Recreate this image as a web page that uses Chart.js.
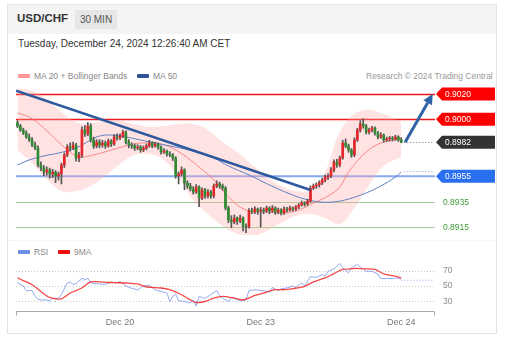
<!DOCTYPE html>
<html>
<head>
<meta charset="utf-8">
<script src="https://cdn.jsdelivr.net/npm/chart.js@4.4.1/dist/chart.umd.min.js"></script>
<style>
  body { margin: 0; background: #fff; font-family: "Liberation Sans", Arial, sans-serif; }
  #wrap { position: relative; width: 505px; height: 347px; overflow: hidden; }
  .card { position: absolute; left: 7px; top: 4px; width: 490px; height: 330px; border: 1px solid #e4e4e4; box-sizing: border-box; }
  .head { position: absolute; left: 8px; top: 5px; width: 488px; height: 29px; background: #f4f4f4; }
  .sym { position: absolute; left: 17px; top: 12px; font-size: 11.5px; font-weight: bold; color: #333; }
  .tf { position: absolute; left: 75px; top: 10px; width: 42px; height: 19px; background: #e6e6e6; color: #555; font-size: 10px; line-height: 19px; text-align: center; }
  .date { position: absolute; left: 18px; top: 38px; font-size: 10px; color: #333; }
  .leg { position: absolute; font-size: 8.5px; color: #888; line-height: 10px; }
  .sw { position: absolute; width: 12px; height: 4px; border-radius: 1px; }
  .sep { position: absolute; left: 8px; top: 240px; width: 488px; border-top: 1px dotted #eee; }
  canvas { position: absolute; left: 0; }
</style>
</head>
<body>
<div id="wrap">
  <div class="card"></div>
  <div class="head"></div>
  <div class="sym">USD/CHF</div>
  <div class="tf">30 MIN</div>
  <div class="date">Tuesday, December 24, 2024 12:26:40 AM CET</div>

  <div class="sw" style="left:18px;top:74px;background:#ff9a9a"></div>
  <div class="leg" style="left:34px;top:71px">MA 20 + Bollinger Bands</div>
  <div class="sw" style="left:137px;top:74px;background:#2f5597"></div>
  <div class="leg" style="left:153px;top:71px">MA 50</div>
  <div class="leg" style="left:366px;top:71px;color:#999">Research © 2024 Trading Central</div>

  <div class="sep"></div>
  <div class="sw" style="left:18px;top:250px;background:#6d8fe6"></div>
  <div class="leg" style="left:34px;top:247px">RSI</div>
  <div class="sw" style="left:58px;top:250px;background:#f01010"></div>
  <div class="leg" style="left:74px;top:247px">9MA</div>

  <canvas id="price" width="505" height="165" style="top:80px"></canvas>
  <canvas id="rsi" width="505" height="102" style="top:245px"></canvas>
</div>

<script>
// -------------------------------------------------------------------
// Data (30 min candles, Dec 19 - Dec 24)
// -------------------------------------------------------------------
const SLOTS      = 143;          // candle slots incl. projection room on the right
const dayTicks   = [35, 83, 131];
const dayLabels  = ["Dec 20", "Dec 23", "Dec 24"];

const opens = [
  0.89975,0.89947,0.89916,0.89892,0.89861,0.89837,0.89797,0.89774,0.89640,0.89616,
  0.89584,0.89600,0.89569,0.89584,0.89553,0.89569,0.89640,0.89719,0.89782,0.89774,
  0.89797,0.89695,0.89719,0.89916,0.89884,0.89947,0.89837,0.89790,0.89821,0.89797,
  0.89813,0.89790,0.89829,0.89805,0.89861,0.89853,0.89868,0.89900,0.89821,0.89797,
  0.89790,0.89774,0.89782,0.89758,0.89774,0.89790,0.89813,0.89790,0.89805,0.89782,
  0.89742,0.89750,0.89726,0.89719,0.89695,0.89553,0.89569,0.89600,0.89498,0.89474,
  0.89450,0.89426,0.89466,0.89379,0.89442,0.89395,0.89426,0.89395,0.89474,0.89490,
  0.89474,0.89458,0.89300,0.89205,0.89190,0.89221,0.89198,0.89221,0.89158,0.89150,
  0.89277,0.89269,0.89292,0.89277,0.89284,0.89277,0.89300,0.89277,0.89300,0.89269,
  0.89284,0.89261,0.89292,0.89284,0.89300,0.89292,0.89308,0.89324,0.89340,0.89332,
  0.89355,0.89458,0.89474,0.89482,0.89498,0.89521,0.89545,0.89553,0.89600,0.89663,
  0.89640,0.89695,0.89813,0.89790,0.89758,0.89719,0.89837,0.89916,0.89963,0.89947,
  0.89900,0.89916,0.89932,0.89892,0.89861,0.89876,0.89837,0.89845,0.89853,0.89845,
  0.89861,0.89837
];
const highs = [
  0.89990,0.89960,0.89930,0.89910,0.89885,0.89855,0.89820,0.89790,0.89665,0.89635,
  0.89625,0.89615,0.89605,0.89595,0.89585,0.89655,0.89735,0.89800,0.89815,0.89820,
  0.89810,0.89740,0.89940,0.89950,0.89975,0.89965,0.89860,0.89840,0.89840,0.89835,
  0.89830,0.89845,0.89840,0.89880,0.89885,0.89885,0.89915,0.89910,0.89840,0.89815,
  0.89805,0.89800,0.89795,0.89790,0.89805,0.89835,0.89825,0.89820,0.89815,0.89790,
  0.89770,0.89760,0.89745,0.89730,0.89705,0.89585,0.89625,0.89610,0.89515,0.89495,
  0.89470,0.89485,0.89475,0.89460,0.89455,0.89445,0.89440,0.89490,0.89515,0.89505,
  0.89490,0.89470,0.89315,0.89240,0.89245,0.89230,0.89245,0.89230,0.89175,0.89295,
  0.89300,0.89310,0.89300,0.89305,0.89300,0.89315,0.89310,0.89320,0.89310,0.89300,
  0.89295,0.89310,0.89305,0.89315,0.89310,0.89320,0.89335,0.89355,0.89350,0.89370,
  0.89475,0.89490,0.89500,0.89515,0.89535,0.89560,0.89570,0.89620,0.89680,0.89685,
  0.89710,0.89835,0.89845,0.89805,0.89770,0.89855,0.89930,0.89990,0.90005,0.89960,
  0.89930,0.89945,0.89940,0.89905,0.89895,0.89885,0.89860,0.89865,0.89865,0.89875,
  0.89870,0.89855
];
const lows = [
  0.89935,0.89905,0.89880,0.89850,0.89825,0.89785,0.89760,0.89625,0.89595,0.89555,
  0.89560,0.89535,0.89540,0.89500,0.89520,0.89490,0.89620,0.89705,0.89750,0.89760,
  0.89670,0.89665,0.89700,0.89865,0.89870,0.89820,0.89770,0.89775,0.89775,0.89780,
  0.89770,0.89780,0.89785,0.89795,0.89835,0.89840,0.89855,0.89805,0.89775,0.89770,
  0.89755,0.89760,0.89740,0.89745,0.89760,0.89780,0.89775,0.89780,0.89765,0.89725,
  0.89730,0.89710,0.89705,0.89675,0.89535,0.89490,0.89555,0.89445,0.89455,0.89435,
  0.89410,0.89415,0.89310,0.89365,0.89375,0.89380,0.89375,0.89380,0.89460,0.89455,
  0.89440,0.89285,0.89185,0.89145,0.89175,0.89170,0.89185,0.89120,0.89105,0.89140,
  0.89255,0.89255,0.89250,0.89150,0.89255,0.89265,0.89255,0.89265,0.89250,0.89255,
  0.89245,0.89250,0.89270,0.89275,0.89275,0.89280,0.89295,0.89315,0.89315,0.89320,
  0.89345,0.89445,0.89455,0.89465,0.89485,0.89505,0.89525,0.89540,0.89585,0.89620,
  0.89625,0.89685,0.89775,0.89740,0.89700,0.89705,0.89825,0.89900,0.89930,0.89885,
  0.89885,0.89900,0.89875,0.89845,0.89850,0.89820,0.89825,0.89830,0.89830,0.89835,
  0.89825,0.89815
];
const closes = [
  0.89947,0.89916,0.89892,0.89861,0.89837,0.89797,0.89774,0.89640,0.89616,0.89584,
  0.89600,0.89569,0.89584,0.89553,0.89569,0.89640,0.89719,0.89782,0.89774,0.89797,
  0.89695,0.89719,0.89916,0.89884,0.89947,0.89837,0.89790,0.89821,0.89797,0.89813,
  0.89790,0.89829,0.89805,0.89861,0.89853,0.89868,0.89900,0.89821,0.89797,0.89790,
  0.89774,0.89782,0.89758,0.89774,0.89790,0.89813,0.89790,0.89805,0.89782,0.89742,
  0.89750,0.89726,0.89719,0.89695,0.89553,0.89569,0.89600,0.89498,0.89474,0.89450,
  0.89426,0.89466,0.89379,0.89442,0.89395,0.89426,0.89395,0.89474,0.89490,0.89474,
  0.89458,0.89300,0.89205,0.89190,0.89221,0.89198,0.89221,0.89158,0.89150,0.89277,
  0.89269,0.89292,0.89277,0.89284,0.89277,0.89300,0.89277,0.89300,0.89269,0.89284,
  0.89261,0.89292,0.89284,0.89300,0.89292,0.89308,0.89324,0.89340,0.89332,0.89355,
  0.89458,0.89474,0.89482,0.89498,0.89521,0.89545,0.89553,0.89600,0.89663,0.89640,
  0.89695,0.89813,0.89790,0.89758,0.89719,0.89837,0.89916,0.89963,0.89947,0.89900,
  0.89916,0.89932,0.89892,0.89861,0.89876,0.89837,0.89845,0.89853,0.89845,0.89861,
  0.89837,0.89820
];

// MA 20
const ma20Idx = [0,4,9,14,18,21,26,32,37,42,49,54,59,64,68,72,78,85,91,96,101,106,110,113,119,124,129,131];
const ma20Val = [0.90050,0.90018,0.89932,0.89821,0.89742,0.89703,0.89719,0.89758,0.89790,0.89813,0.89805,0.89758,0.89679,0.89584,
                 0.89498,0.89387,0.89284,0.89269,0.89261,0.89284,0.89340,0.89395,0.89466,0.89584,0.89742,0.89813,0.89837,0.89853];

// Bollinger bands
const bandIdx   = [0,5,10,15,20,25,30,35,40,45,50,55,60,65,70,75,80,85,90,95,100,105,110,115,120,125,131];
const bandUpper = [0.90247,0.90224,0.90161,0.90058,0.89979,0.89971,0.89987,0.89987,0.89963,0.89940,0.89947,0.89963,0.89963,0.89916,
                   0.89821,0.89742,0.89640,0.89545,0.89474,0.89434,0.89442,0.89584,0.89900,0.90042,0.90074,0.90042,0.89979];
const bandLower = [0.89758,0.89655,0.89529,0.89434,0.89434,0.89474,0.89553,0.89647,0.89719,0.89726,0.89679,0.89537,0.89363,0.89253,
                   0.89158,0.89095,0.89079,0.89119,0.89182,0.89237,0.89253,0.89221,0.89174,0.89300,0.89482,0.89632,0.89703];

// MA 50
const ma50Idx = [0,4,9,14,20,25,28,32,37,42,47,52,57,62,67,72,79,86,93,98,103,108,113,119,124,129,131];
const ma50Val = [0.89640,0.89679,0.89711,0.89734,0.89774,0.89837,0.89868,0.89876,0.89861,0.89837,0.89813,0.89790,0.89766,0.89734,
                 0.89695,0.89632,0.89561,0.89482,0.89411,0.89371,0.89348,0.89348,0.89371,0.89419,0.89474,0.89545,0.89584];
const ma50Next = 0.89592;

// falling trend line
const trendIdx = [-0.5, 100];
const trendVal = [0.90226, 0.89442];

// key levels
const resistances = [0.9020, 0.9000];
const pivot       = 0.8955;
const supports    = [0.8935, 0.8915];
const lastPrice   = 0.8982;
const target      = 0.9020;

// RSI panel
const rsiIdx = [0,2,3,5,6,7,8,10,11,12,14,15,17,18,19,20,22,23,24,25,27,30,32,34,35,37,39,41,43,45,47,49,51,52,53,54,55,57,59,60,
                61,62,64,66,68,69,70,72,73,74,76,78,79,81,84,86,87,89,90,92,94,95,97,98,100,102,104,105,106,108,110,111,113,114,
                116,117,119,121,123,124,126,128,130,131];
const rsiVal = [54,50,44,44,36.5,33,32,32,31,34,34,39,54,55,52,53,60,58,60,54,53,52,55,54,56,50,47,45,50,51,45,43,41,30,36.5,39.5,
                31,30,28,32,24,36.5,34,39,44,37.5,34,30,35,34,31,32,44,45,44,42,48,44,46.5,47.5,50,48,54,50,62,61,65,62.5,69,72,
                79,73.5,67,73.5,78,74.5,69,69,65.5,59.6,59.6,59.6,60.4,58.3];
const rsiNext = 57.4;
const ma9Idx = [0,2,5,8,11,15,18,22,25,30,33,37,41,44,49,52,56,59,61,64,67,70,74,77,81,84,88,91,94,98,101,105,108,111,115,118,122,125,129,131];
const ma9Val = [60.4,57,51.7,43,35.2,33.5,41,47.4,55.2,54.8,54.3,53.9,52.6,48.7,47.4,45.2,38.7,32,28.7,30,34.3,36.5,34.3,32,37.8,
                40.9,45.2,45.2,46.5,49.6,55.2,60.4,66,71.3,72.6,72.2,71.3,65.7,62.6,60.4];
const rsiTicks = [70, 50, 30];

// -------------------------------------------------------------------
// Helpers
// -------------------------------------------------------------------
const FONT = '"Liberation Sans", Arial, sans-serif';
const UP   = "#e5262b";
const DOWN = "#2f8a32";
const LAST = closes.length - 1;

function pts(idx, vals) {
  return idx.map((x, i) => ({ x: x, y: vals[i] }));
}

function xAxis() {
  return { type: "linear", min: -0.5, max: SLOTS - 0.5, offset: false, display: false };
}

function hline(ctx, area, y, color, width, dash) {
  ctx.save();
  ctx.strokeStyle = color;
  ctx.lineWidth = width;
  ctx.setLineDash(dash || []);
  ctx.beginPath();
  ctx.moveTo(area.left, y);
  ctx.lineTo(area.right, y);
  ctx.stroke();
  ctx.restore();
}

function tag(ctx, y, text, color) {
  const tip = 436, body = 442, right = 495, h = 13;
  ctx.save();
  ctx.fillStyle = color;
  ctx.beginPath();
  ctx.moveTo(tip, y);
  ctx.lineTo(body, y - h / 2);
  ctx.lineTo(right, y - h / 2);
  ctx.lineTo(right, y + h / 2);
  ctx.lineTo(body, y + h / 2);
  ctx.closePath();
  ctx.fill();
  ctx.fillStyle = "#fff";
  ctx.font = "8.5px " + FONT;
  ctx.textBaseline = "middle";
  ctx.fillText(text, 445, y + 0.5);
  ctx.restore();
}

// -------------------------------------------------------------------
// Price chart
// -------------------------------------------------------------------
const priceDecor = {
  id: "priceDecor",
  beforeDatasetsDraw(chart) {
    const { ctx, chartArea: a, scales: { y } } = chart;
    resistances.forEach(v => hline(ctx, a, Math.round(y.getPixelForValue(v)) + 0.5, "#f01818", 1.5));
    hline(ctx, a, y.getPixelForValue(pivot), "#86aaf0", 2);
    supports.forEach(v => hline(ctx, a, Math.round(y.getPixelForValue(v)) + 0.5, "#9ccf98", 1));
  },
  afterDatasetsDraw(chart) {
    const { ctx, chartArea: a, scales: { x, y } } = chart;
    const x0 = x.getPixelForValue(LAST) + 3;

    // dotted extensions after the last candle
    ctx.save();
    ctx.lineWidth = 1;
    ctx.setLineDash([1, 2]);
    ctx.strokeStyle = "#777";
    ctx.beginPath();
    ctx.moveTo(x0, Math.round(y.getPixelForValue(lastPrice)) + 0.5);
    ctx.lineTo(a.right - 2, Math.round(y.getPixelForValue(lastPrice)) + 0.5);
    ctx.stroke();
    ctx.strokeStyle = "#8aa3d0";
    ctx.beginPath();
    ctx.moveTo(x0, Math.round(y.getPixelForValue(ma50Next)) + 0.5);
    ctx.lineTo(a.right - 2, Math.round(y.getPixelForValue(ma50Next)) + 0.5);
    ctx.stroke();
    ctx.restore();

    // projection arrow
    const sx = x.getPixelForValue(LAST + 1.3), sy = y.getPixelForValue(lastPrice);
    const ex = x.getPixelForValue(SLOTS - 1.3), ey = y.getPixelForValue(target);
    const ang = Math.atan2(ey - sy, ex - sx);
    const head = 10, half = 5;
    const bx = ex - head * Math.cos(ang), by = ey - head * Math.sin(ang);
    ctx.save();
    ctx.strokeStyle = "#2f62a6";
    ctx.fillStyle = "#2f62a6";
    ctx.lineWidth = 3;
    ctx.beginPath();
    ctx.moveTo(sx, sy);
    ctx.lineTo(bx, by);
    ctx.stroke();
    ctx.beginPath();
    ctx.moveTo(ex, ey);
    ctx.lineTo(bx + half * Math.sin(ang), by - half * Math.cos(ang));
    ctx.lineTo(bx - half * Math.sin(ang), by + half * Math.cos(ang));
    ctx.closePath();
    ctx.fill();
    ctx.restore();

    // level tags
    resistances.forEach(v => tag(ctx, y.getPixelForValue(v), v.toFixed(4), "#ff0000"));
    tag(ctx, y.getPixelForValue(lastPrice), lastPrice.toFixed(4), "#333333");
    tag(ctx, y.getPixelForValue(pivot), pivot.toFixed(4), "#2a6ff0");
    ctx.save();
    ctx.fillStyle = "#3f9a3a";
    ctx.font = "8.5px " + FONT;
    ctx.textBaseline = "middle";
    supports.forEach(v => ctx.fillText(v.toFixed(4), 443, y.getPixelForValue(v) + 0.5));
    ctx.restore();
  }
};

new Chart(document.getElementById("price"), {
  type: "bar",
  data: {
    datasets: [
      {
        type: "line", data: pts(bandIdx, bandUpper), fill: "+1",
        backgroundColor: "rgba(255,165,165,0.32)", borderWidth: 0, pointRadius: 0, tension: 0.4, order: 9
      },
      {
        type: "line", data: pts(bandIdx, bandLower), fill: false,
        borderWidth: 0, pointRadius: 0, tension: 0.4, order: 8
      },
      {
        type: "line", data: pts(ma20Idx, ma20Val), borderColor: "rgba(250,120,120,0.85)",
        borderWidth: 1, pointRadius: 0, tension: 0.4, order: 7
      },
      {
        type: "line", data: pts(ma50Idx, ma50Val), borderColor: "#5d80c2",
        borderWidth: 1, pointRadius: 0, tension: 0.4, order: 6
      },
      {
        data: lows.map((l, i) => ({ x: i, y: [l, highs[i]] })),
        backgroundColor: "#555", barThickness: 1, grouped: false, order: 5
      },
      {
        data: opens.map((o, i) => ({ x: i, y: [o, closes[i]] })),
        backgroundColor: opens.map((o, i) => closes[i] >= o ? UP : DOWN),
        barThickness: 2, grouped: false, order: 4
      },
      {
        type: "line", data: pts(trendIdx, trendVal), borderColor: "#2d5a9e",
        borderWidth: 2.5, pointRadius: 0, order: 1
      }
    ]
  },
  options: {
    responsive: false,
    animation: false,
    layout: { padding: { left: 16, right: 70, top: 5, bottom: 10 } },
    scales: {
      x: xAxis(),
      y: { min: 0.89087, max: 0.90271, display: false }
    },
    plugins: { legend: { display: false }, tooltip: { enabled: false } }
  },
  plugins: [priceDecor]
});

// -------------------------------------------------------------------
// RSI chart
// -------------------------------------------------------------------
const rsiDecor = {
  id: "rsiDecor",
  beforeDatasetsDraw(chart) {
    const { ctx, chartArea: a, scales: { y } } = chart;
    rsiTicks.forEach(v => hline(ctx, a, Math.round(y.getPixelForValue(v)) + 0.5, "#c8c8c8", 1, [1, 2]));
  },
  afterDatasetsDraw(chart) {
    const { ctx, chartArea: a, scales: { x, y } } = chart;
    ctx.save();
    // RSI carried forward
    ctx.strokeStyle = "#9bb4ee";
    ctx.lineWidth = 1;
    ctx.setLineDash([1, 2]);
    ctx.beginPath();
    ctx.moveTo(x.getPixelForValue(LAST), y.getPixelForValue(rsiNext));
    ctx.lineTo(a.right - 2, y.getPixelForValue(rsiNext));
    ctx.stroke();
    ctx.setLineDash([]);

    // y tick labels
    ctx.fillStyle = "#888";
    ctx.font = "8.5px " + FONT;
    ctx.textBaseline = "middle";
    rsiTicks.forEach(v => ctx.fillText(String(v), 443, y.getPixelForValue(v)));

    // time axis
    const by = Math.round(a.bottom) + 0.5;
    ctx.strokeStyle = "#aaa";
    ctx.beginPath();
    ctx.moveTo(a.left + 0.5, by + 4);
    ctx.lineTo(a.left + 0.5, by);
    ctx.lineTo(a.right - 0.5, by);
    ctx.lineTo(a.right - 0.5, by + 4);
    ctx.stroke();
    ctx.fillStyle = "#777";
    ctx.font = "9px " + FONT;
    ctx.textAlign = "center";
    ctx.textBaseline = "top";
    dayTicks.forEach((t, i) => ctx.fillText(dayLabels[i], x.getPixelForValue(t), by + 7));
    ctx.restore();
  }
};

new Chart(document.getElementById("rsi"), {
  type: "line",
  data: {
    datasets: [
      { data: pts(ma9Idx, ma9Val), borderColor: "rgba(245,40,40,0.85)", borderWidth: 1.3, pointRadius: 0, tension: 0.3 },
      { data: pts(rsiIdx, rsiVal), borderColor: "rgba(120,150,235,0.8)", borderWidth: 1, pointRadius: 0, tension: 0 }
    ]
  },
  options: {
    responsive: false,
    animation: false,
    layout: { padding: { left: 16, right: 70, top: 13, bottom: 36 } },
    scales: {
      x: xAxis(),
      y: { min: 17.74, max: 86.13, display: false }
    },
    plugins: { legend: { display: false }, tooltip: { enabled: false } }
  },
  plugins: [rsiDecor]
});
</script>
</body>
</html>
